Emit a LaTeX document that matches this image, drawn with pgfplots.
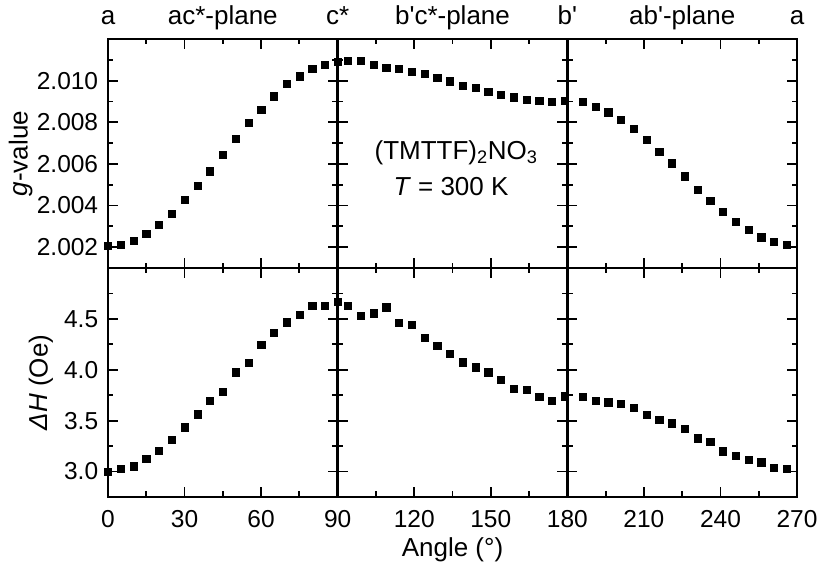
\documentclass[border=0pt]{standalone}
\usepackage{fontspec}
\setmainfont{Liberation Sans}
\usepackage{pgfplots}
\pgfplotsset{compat=1.18}

\pgfplotstableread{
x y
0 2.00208
5 2.00213
10 2.00230
15 2.00264
20 2.00307
25 2.00360
30 2.00427
35 2.00496
40 2.00565
45 2.00645
50 2.00720
55 2.00798
60 2.00861
65 2.00925
70 2.00984
75 2.01021
80 2.01059
85 2.01078
90 2.01090
}\gA
\pgfplotstableread{
x y
94 2.01096
99 2.01096
104 2.01078
109 2.01064
114 2.01056
119 2.01043
124 2.01032
129 2.01013
134 2.00997
139 2.00976
144 2.00965
149 2.00947
154 2.00931
159 2.00920
164 2.00909
169 2.00904
174 2.00899
179 2.00904
}\gB
\pgfplotstableread{
x y
186 2.00899
191 2.00875
196 2.00848
201 2.00811
206 2.00768
211 2.00715
216 2.00659
221 2.00603
226 2.00541
231 2.00477
236 2.00424
241 2.00371
246 2.00323
251 2.00283
256 2.00248
261 2.00227
266 2.00211
}\gC
\pgfplotstableread{
x y
0 3.000
5 3.026
10 3.052
15 3.124
20 3.206
25 3.314
30 3.436
35 3.563
40 3.698
45 3.786
50 3.976
55 4.071
60 4.248
65 4.363
70 4.467
75 4.539
80 4.631
85 4.631
90 4.670
}\hA
\pgfplotstableread{
x y
94 4.631
99 4.533
104 4.556
109 4.615
114 4.461
119 4.441
124 4.313
129 4.238
134 4.156
139 4.074
144 4.025
149 3.976
154 3.904
159 3.812
164 3.802
169 3.737
174 3.698
179 3.740
}\hB
\pgfplotstableread{
x y
186 3.737
191 3.698
196 3.681
201 3.665
206 3.626
211 3.557
216 3.511
221 3.475
226 3.419
231 3.328
236 3.295
241 3.200
246 3.157
251 3.118
256 3.092
261 3.036
266 3.026
}\hC

\pgfplotsset{
  panel/.style={
    scale only axis, width=229.67pt, height=229pt, anchor=south west,
    clip=false,
    axis line style={line width=2.6pt},
    every tick/.style={black, line width=1.8pt},
    major tick length=10pt, minor tick length=5.5pt,
    tick align=inside, xtick pos=both, ytick pos=both,
    /pgf/number format/assume math mode=true,
    tick label style={font=\fontsize{24.5}{28}\selectfont},
    xticklabel style={yshift=-5pt},
    yticklabel style={xshift=-1pt},
  },
  toprow/.style={ymin=2.001, ymax=2.012,
    ytick={2.002,2.004,2.006,2.008,2.010},
    minor ytick={2.003,2.005,2.007,2.009,2.011},
    yticklabels={2.002,2.004,2.006,2.008,2.010},
    xticklabels={}},
  botrow/.style={ymin=2.75, ymax=5,
    ytick={3,3.5,4,4.5},
    minor ytick={3.25,3.75,4.25,4.75},
    yticklabels={3.0,3.5,4.0,4.5}},
  colA/.style={xmin=0, xmax=90, xtick={0,30,60,90}, minor xtick={15,45,75}},
  colB/.style={xmin=90, xmax=180, xtick={120,150,180}, minor xtick={105,135,165}, yticklabels={}},
  colC/.style={xmin=180, xmax=270, xtick={210,240,270}, minor xtick={195,225,255}, yticklabels={}},
  pts/.style={only marks, mark=square*, mark size=3.6pt, color=black},
}

\begin{document}
\fontsize{26}{30}\selectfont
\begin{tikzpicture}
\path[use as bounding box] (-108pt,-68pt) rectangle (709pt,497pt);

\begin{axis}[panel, toprow, colA, at={(0pt,229pt)}]
\addplot[pts] table[x=x,y=y] {\gA};
\end{axis}
\begin{axis}[panel, toprow, colB, at={(229.67pt,229pt)}, xticklabels={}]
\addplot[pts] table[x=x,y=y] {\gB};
\end{axis}
\begin{axis}[panel, toprow, colC, at={(459.33pt,229pt)}, xticklabels={}]
\addplot[pts] table[x=x,y=y] {\gC};
\end{axis}

\begin{axis}[panel, botrow, colA, at={(0pt,0pt)}, xticklabels={0,30,60,90}]
\addplot[pts] table[x=x,y=y] {\hA};
\end{axis}
\begin{axis}[panel, botrow, colB, at={(229.67pt,0pt)}, xticklabels={120,150,180}]
\addplot[pts] table[x=x,y=y] {\hB};
\end{axis}
\begin{axis}[panel, botrow, colC, at={(459.33pt,0pt)}, xticklabels={210,240,270}]
\addplot[pts] table[x=x,y=y] {\hC};
\end{axis}

% plane labels above the top panels
\foreach \px/\t in {0/a, 114.8/ac*-plane, 229.67/c*, 344.5/b\textquotesingle c*-plane, 459.33/b\textquotesingle, 574.2/ab\textquotesingle-plane, 689/a}
  \node[anchor=base, inner sep=0pt] at (\px pt, 472pt) {\t};

% axis titles
\node[rotate=90, anchor=center] at (-87pt,343.5pt) {\textit{g}-value};
\node[rotate=90, anchor=center] at (-67pt,114.5pt) {\textit{ΔH} (Oe)};
\node[anchor=center] at (344.5pt,-53pt) {Angle (°)};

% annotation
\node[anchor=center, inner sep=0pt] at (348pt,344pt) {(TMTTF)\textsubscript{2}NO\textsubscript{3}};
\node[anchor=center, inner sep=0pt] at (343pt,310pt) {\textit{T} = 300 K};
\end{tikzpicture}
\end{document}
